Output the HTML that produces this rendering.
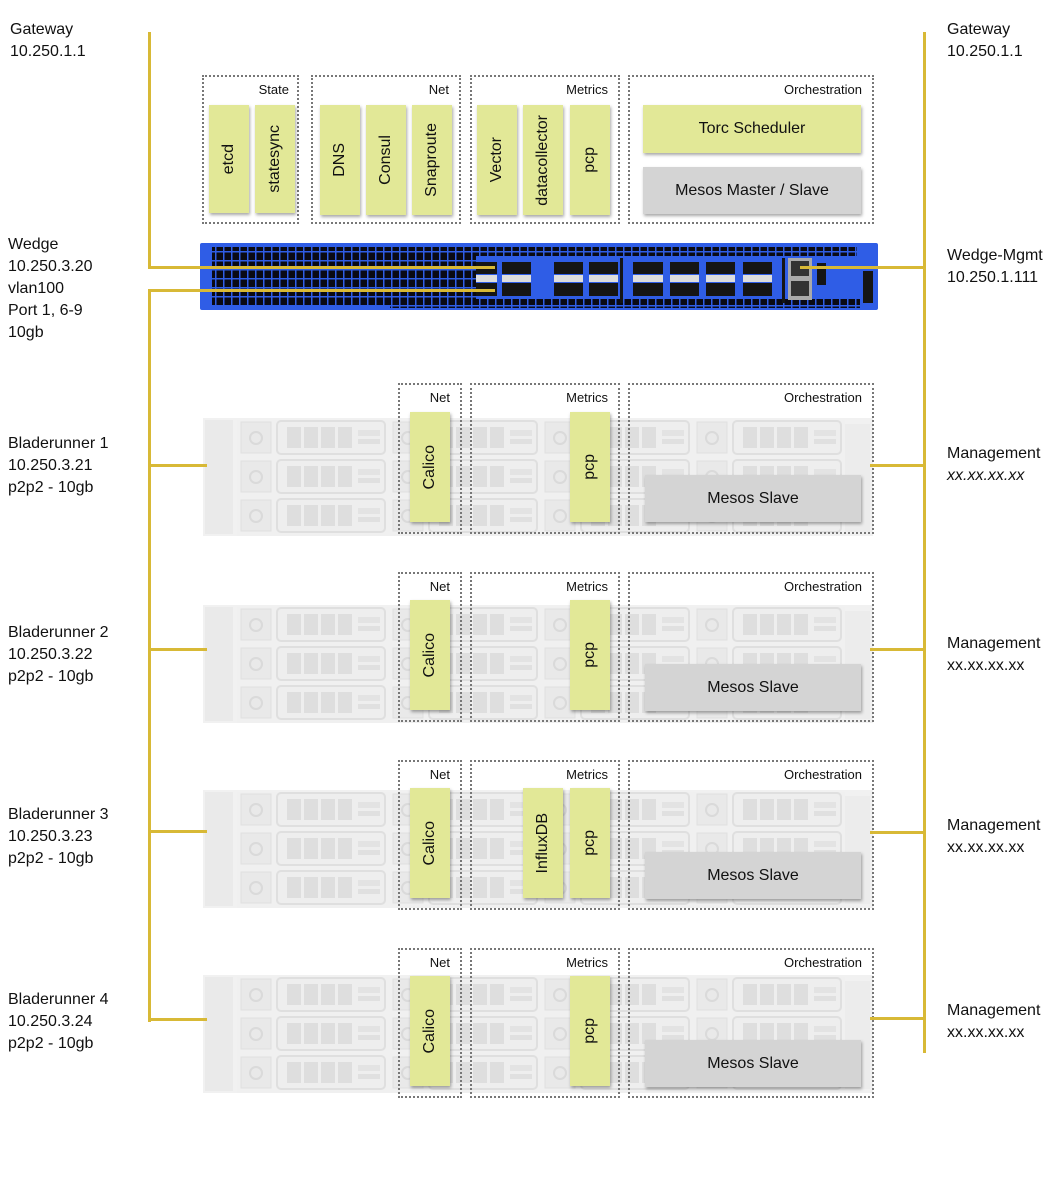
<!DOCTYPE html>
<html><head><meta charset="utf-8"><style>
body{margin:0;background:#fff;}
#c{position:relative;width:1064px;height:1181px;overflow:hidden;font-family:"Liberation Sans",sans-serif;color:#111;}
.t{position:absolute;font-size:16px;line-height:22px;white-space:nowrap;}
.y{position:absolute;background:#d8b936;}
.g{position:absolute;border:2px dotted #777;box-sizing:border-box;}
.gl{position:absolute;font-size:13px;right:10px;top:5px;}
.v{position:absolute;background:#e2e897;box-shadow:1px 2px 3px rgba(0,0,0,.35);display:flex;align-items:center;justify-content:center;}
.v span{writing-mode:vertical-rl;transform:rotate(180deg);font-size:16px;}
.h{position:absolute;display:flex;align-items:center;justify-content:center;font-size:16px;box-shadow:1px 2px 3px rgba(0,0,0,.35);}
.srv{position:absolute;left:203px;width:670px;height:118px;}
</style></head><body><div id="c">

<svg width="0" height="0" style="position:absolute">
<defs>
<pattern id="bay" x="237" y="0" width="152" height="39" patternUnits="userSpaceOnUse">
<rect x="0" y="0" width="152" height="39" fill="#f0f0f0"/>
<rect x="4" y="4" width="30" height="31" fill="#e9e9e9" stroke="#e0e0e0"/>
<circle cx="19" cy="20" r="6" fill="none" stroke="#dadada" stroke-width="2"/>
<rect x="40" y="3" width="108" height="33" rx="4" fill="#eeeeee" stroke="#dfdfdf" stroke-width="2"/>
<rect x="50" y="9" width="14" height="21" fill="#dedede"/>
<rect x="67" y="9" width="14" height="21" fill="#dedede"/>
<rect x="84" y="9" width="14" height="21" fill="#dedede"/>
<rect x="101" y="9" width="14" height="21" fill="#dedede"/>
<rect x="121" y="12" width="22" height="6" fill="#e3e3e3"/>
<rect x="121" y="21" width="22" height="5" fill="#e0e0e0"/>
</pattern>
<pattern id="vent" x="0" y="0" width="8" height="9" patternUnits="userSpaceOnUse">
<rect width="8" height="9" fill="#2f5de6"/>
<rect x="0.5" y="0.5" width="6.5" height="7.5" fill="#0a0a14"/>
</pattern>
</defs>
</svg>

<!-- labels left -->
<div class="t" style="left:10px;top:19px">Gateway<br>10.250.1.1</div>
<div class="t" style="left:8px;top:234px">Wedge<br>10.250.3.20<br>vlan100<br>Port 1, 6-9<br>10gb</div>
<div class="t" style="left:8px;top:433px">Bladerunner 1<br>10.250.3.21<br>p2p2 - 10gb</div>
<div class="t" style="left:8px;top:622px">Bladerunner 2<br>10.250.3.22<br>p2p2 - 10gb</div>
<div class="t" style="left:8px;top:804px">Bladerunner 3<br>10.250.3.23<br>p2p2 - 10gb</div>
<div class="t" style="left:8px;top:989px">Bladerunner 4<br>10.250.3.24<br>p2p2 - 10gb</div>
<!-- labels right -->
<div class="t" style="left:947px;top:19px">Gateway<br>10.250.1.1</div>
<div class="t" style="left:947px;top:245px">Wedge-Mgmt<br>10.250.1.111</div>
<div class="t" style="left:947px;top:443px">Management<br><i>xx.xx.xx.xx</i></div>
<div class="t" style="left:947px;top:633px">Management<br>xx.xx.xx.xx</div>
<div class="t" style="left:947px;top:815px">Management<br>xx.xx.xx.xx</div>
<div class="t" style="left:947px;top:1000px">Management<br>xx.xx.xx.xx</div>

<!-- top groups -->
<div class="g" style="left:202px;top:75px;width:97px;height:149px"><div class="gl" style="right:8px">State</div></div>
<div class="g" style="left:311px;top:75px;width:150px;height:149px"><div class="gl">Net</div></div>
<div class="g" style="left:470px;top:75px;width:150px;height:149px"><div class="gl">Metrics</div></div>
<div class="g" style="left:628px;top:75px;width:246px;height:149px"><div class="gl">Orchestration</div></div>
<div class="v" style="left:209px;top:105px;width:40px;height:108px"><span>etcd</span></div>
<div class="v" style="left:255px;top:105px;width:40px;height:108px"><span>statesync</span></div>
<div class="v" style="left:320px;top:105px;width:40px;height:110px"><span>DNS</span></div>
<div class="v" style="left:366px;top:105px;width:40px;height:110px"><span>Consul</span></div>
<div class="v" style="left:412px;top:105px;width:40px;height:110px"><span>Snaproute</span></div>
<div class="v" style="left:477px;top:105px;width:40px;height:110px"><span>Vector</span></div>
<div class="v" style="left:523px;top:105px;width:40px;height:110px"><span>datacollector</span></div>
<div class="v" style="left:570px;top:105px;width:40px;height:110px"><span>pcp</span></div>
<div class="h" style="left:643px;top:105px;width:218px;height:48px;background:#e2e897">Torc Scheduler</div>
<div class="h" style="left:643px;top:167px;width:218px;height:47px;background:#d4d4d4">Mesos Master / Slave</div>

<!-- switch -->
<svg style="position:absolute;left:200px;top:243px" width="678" height="67">
<rect x="0" y="0" width="678" height="67" rx="2" fill="#2f5de6"/>
<rect x="12" y="4" width="645" height="9" fill="url(#vent)"/>
<rect x="12" y="13" width="264" height="50" fill="url(#vent)"/>
<rect x="190" y="56" width="470" height="9" fill="url(#vent)"/>
<g fill="#151515">
<rect x="276" y="19" width="21" height="12"/><rect x="276" y="40" width="21" height="13"/>
<rect x="302" y="19" width="29" height="12"/><rect x="302" y="40" width="29" height="13"/>
<rect x="354" y="19" width="29" height="12"/><rect x="354" y="40" width="29" height="13"/>
<rect x="389" y="19" width="29" height="12"/><rect x="389" y="40" width="29" height="13"/>
<rect x="433" y="19" width="30" height="12"/><rect x="433" y="40" width="30" height="13"/>
<rect x="470" y="19" width="29" height="12"/><rect x="470" y="40" width="29" height="13"/>
<rect x="506" y="19" width="29" height="12"/><rect x="506" y="40" width="29" height="13"/>
<rect x="543" y="19" width="29" height="12"/><rect x="543" y="40" width="29" height="13"/>
<rect x="582" y="15" width="3" height="45"/><rect x="420" y="15" width="3" height="45"/>
<rect x="617" y="20" width="9" height="22"/><rect x="663" y="28" width="10" height="32"/>
</g>
<g fill="#ddd">
<rect x="276" y="32" width="21" height="7"/><rect x="302" y="32" width="29" height="7"/>
<rect x="354" y="32" width="29" height="7"/><rect x="389" y="32" width="29" height="7"/>
<rect x="433" y="32" width="30" height="7"/><rect x="470" y="32" width="29" height="7"/>
<rect x="506" y="32" width="29" height="7"/><rect x="543" y="32" width="29" height="7"/>
</g>
<rect x="588" y="15" width="24" height="42" fill="#aaa"/>
<rect x="591" y="18" width="18" height="15" fill="#333"/><rect x="591" y="38" width="18" height="15" fill="#333"/>
</svg>

<!-- servers & groups -->
<svg class="srv" style="top:418px" viewBox="203 0 670 118"><rect x="203" y="0" width="670" height="118" fill="#f1f1f1"/><rect x="237" y="2" width="608" height="117" fill="url(#bay)"/><rect x="205" y="2" width="28" height="114" fill="#eaeaea"/><rect x="845" y="6" width="25" height="108" fill="#ececec"/></svg>
<svg class="srv" style="top:605px" viewBox="203 0 670 118"><rect x="203" y="0" width="670" height="118" fill="#f1f1f1"/><rect x="237" y="2" width="608" height="117" fill="url(#bay)"/><rect x="205" y="2" width="28" height="114" fill="#eaeaea"/><rect x="845" y="6" width="25" height="108" fill="#ececec"/></svg>
<svg class="srv" style="top:790px" viewBox="203 0 670 118"><rect x="203" y="0" width="670" height="118" fill="#f1f1f1"/><rect x="237" y="2" width="608" height="117" fill="url(#bay)"/><rect x="205" y="2" width="28" height="114" fill="#eaeaea"/><rect x="845" y="6" width="25" height="108" fill="#ececec"/></svg>
<svg class="srv" style="top:975px" viewBox="203 0 670 118"><rect x="203" y="0" width="670" height="118" fill="#f1f1f1"/><rect x="237" y="2" width="608" height="117" fill="url(#bay)"/><rect x="205" y="2" width="28" height="114" fill="#eaeaea"/><rect x="845" y="6" width="25" height="108" fill="#ececec"/></svg>

<!-- row 1 -->
<div class="g" style="left:398px;top:383px;width:64px;height:151px"><div class="gl" style="right:10px">Net</div></div>
<div class="g" style="left:470px;top:383px;width:150px;height:151px"><div class="gl">Metrics</div></div>
<div class="g" style="left:628px;top:383px;width:246px;height:151px"><div class="gl">Orchestration</div></div>
<div class="v" style="left:410px;top:412px;width:40px;height:110px"><span>Calico</span></div>
<div class="v" style="left:570px;top:412px;width:40px;height:110px"><span>pcp</span></div>
<div class="h" style="left:645px;top:475px;width:216px;height:47px;background:#d4d4d4">Mesos Slave</div>
<!-- row 2 -->
<div class="g" style="left:398px;top:572px;width:64px;height:150px"><div class="gl" style="right:10px">Net</div></div>
<div class="g" style="left:470px;top:572px;width:150px;height:150px"><div class="gl">Metrics</div></div>
<div class="g" style="left:628px;top:572px;width:246px;height:150px"><div class="gl">Orchestration</div></div>
<div class="v" style="left:410px;top:600px;width:40px;height:110px"><span>Calico</span></div>
<div class="v" style="left:570px;top:600px;width:40px;height:110px"><span>pcp</span></div>
<div class="h" style="left:645px;top:664px;width:216px;height:47px;background:#d4d4d4">Mesos Slave</div>
<!-- row 3 -->
<div class="g" style="left:398px;top:760px;width:64px;height:150px"><div class="gl" style="right:10px">Net</div></div>
<div class="g" style="left:470px;top:760px;width:150px;height:150px"><div class="gl">Metrics</div></div>
<div class="g" style="left:628px;top:760px;width:246px;height:150px"><div class="gl">Orchestration</div></div>
<div class="v" style="left:410px;top:788px;width:40px;height:110px"><span>Calico</span></div>
<div class="v" style="left:523px;top:788px;width:40px;height:110px"><span>InfluxDB</span></div>
<div class="v" style="left:570px;top:788px;width:40px;height:110px"><span>pcp</span></div>
<div class="h" style="left:645px;top:852px;width:216px;height:47px;background:#d4d4d4">Mesos Slave</div>
<!-- row 4 -->
<div class="g" style="left:398px;top:948px;width:64px;height:150px"><div class="gl" style="right:10px">Net</div></div>
<div class="g" style="left:470px;top:948px;width:150px;height:150px"><div class="gl">Metrics</div></div>
<div class="g" style="left:628px;top:948px;width:246px;height:150px"><div class="gl">Orchestration</div></div>
<div class="v" style="left:410px;top:976px;width:40px;height:110px"><span>Calico</span></div>
<div class="v" style="left:570px;top:976px;width:40px;height:110px"><span>pcp</span></div>
<div class="h" style="left:645px;top:1040px;width:216px;height:47px;background:#d4d4d4">Mesos Slave</div>

<!-- yellow lines -->
<div class="y" style="left:148px;top:32px;width:3px;height:237px"></div>
<div class="y" style="left:148px;top:266px;width:347px;height:3px"></div>
<div class="y" style="left:148px;top:289px;width:347px;height:3px"></div>
<div class="y" style="left:148px;top:289px;width:3px;height:733px"></div>
<div class="y" style="left:148px;top:464px;width:59px;height:3px"></div>
<div class="y" style="left:148px;top:648px;width:59px;height:3px"></div>
<div class="y" style="left:148px;top:830px;width:59px;height:3px"></div>
<div class="y" style="left:148px;top:1018px;width:59px;height:3px"></div>

<div class="y" style="left:923px;top:32px;width:3px;height:1021px"></div>
<div class="y" style="left:800px;top:266px;width:125px;height:3px"></div>
<div class="y" style="left:870px;top:464px;width:55px;height:3px"></div>
<div class="y" style="left:870px;top:648px;width:55px;height:3px"></div>
<div class="y" style="left:870px;top:831px;width:55px;height:3px"></div>
<div class="y" style="left:870px;top:1017px;width:55px;height:3px"></div>

</div></body></html>
